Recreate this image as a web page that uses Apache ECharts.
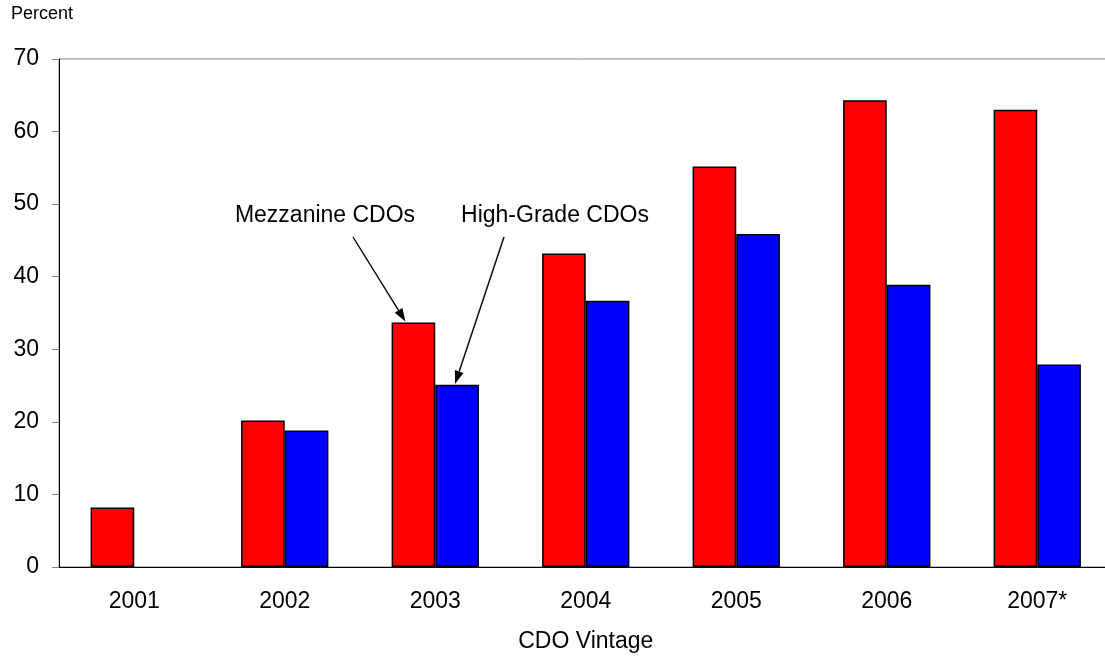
<!DOCTYPE html>
<html>
<head>
<meta charset="utf-8">
<script src="https://cdn.jsdelivr.net/npm/echarts@6/dist/echarts.min.js"></script>
<style>
  html, body { margin: 0; padding: 0; background: #fff; }
  #chart { width: 1105px; height: 659px; }
</style>
</head>
<body>
<div id="chart"></div>
<script>
// CDO vintages and the share (percent) for each CDO type
const vintages = ['2001', '2002', '2003', '2004', '2005', '2006', '2007*'];
const mezzanine = [8.2, 20.2, 33.7, 43.2, 55.2, 64.3, 63.0];
const highGrade = [null, 18.8, 25.1, 36.7, 45.9, 38.9, 27.9];
const yTicks = { min: 0, max: 70, interval: 10 };

const FONT = '"Liberation Sans", Arial, sans-serif';
const BIG = 23;

const chart = echarts.init(document.getElementById('chart'), null, { renderer: 'canvas' });

const percentLabel = {
  type: 'text', left: 11, top: 5,
  style: { text: 'Percent', fontFamily: FONT, fontSize: 18, fill: '#000' }
};

const option = {
  animation: false,
  backgroundColor: '#ffffff',
  grid: {
    left: 59, top: 59, width: 1053.5, height: 508,
    outerBoundsMode: 'none',
    show: true, borderColor: '#808080', borderWidth: 1, backgroundColor: 'transparent'
  },
  xAxis: {
    type: 'category',
    data: vintages,
    name: 'CDO Vintage',
    nameLocation: 'middle',
    nameGap: 63,
    nameTextStyle: { fontFamily: FONT, fontSize: BIG, color: '#000' },
    axisLine: { show: true, lineStyle: { color: '#000', width: 1 } },
    axisTick: { show: false },
    axisLabel: { fontFamily: FONT, fontSize: BIG, color: '#000', margin: 23 },
    splitLine: { show: false }
  },
  yAxis: {
    type: 'value',
    min: yTicks.min, max: yTicks.max, interval: yTicks.interval,
    axisLine: { show: true, lineStyle: { color: '#000', width: 1 } },
    axisTick: { show: true, length: 7, lineStyle: { color: '#808080', width: 1 } },
    axisLabel: { fontFamily: FONT, fontSize: BIG, color: '#000', margin: 20 },
    splitLine: { show: false }
  },
  series: [
    {
      name: 'Mezzanine CDOs',
      type: 'bar',
      data: mezzanine,
      barGap: '0%',
      barCategoryGap: '42%',
      itemStyle: { color: '#ff0000', borderColor: '#000', borderWidth: 1.5 }
    },
    {
      name: 'High-Grade CDOs',
      type: 'bar',
      data: highGrade,
      itemStyle: { color: '#0000ff', borderColor: '#000', borderWidth: 1.5 }
    }
  ],
  graphic: [percentLabel]
};

chart.setOption(option);

// Callout labels with arrows pointing at the 2003 bars
function arrow(id, x1, y1, x2, y2) {
  const ang = Math.atan2(y2 - y1, x2 - x1);
  const len = 13, half = 4.5;
  const bx = x2 - len * Math.cos(ang), by = y2 - len * Math.sin(ang);
  const px = -Math.sin(ang) * half, py = Math.cos(ang) * half;
  return [
    { type: 'line', id: id + '-shaft', shape: { x1: x1, y1: y1, x2: bx, y2: by },
      style: { stroke: '#000', lineWidth: 1.4 } },
    { type: 'polygon', id: id + '-head',
      shape: { points: [[x2, y2], [bx + px, by + py], [bx - px, by - py]] },
      style: { fill: '#000' } }
  ];
}

const idx = 2; // 2003
const pMez = chart.convertToPixel({ seriesIndex: 0 }, [idx, mezzanine[idx]]);
const pHg = chart.convertToPixel({ seriesIndex: 1 }, [idx, highGrade[idx]]);
const catW = chart.convertToPixel({ xAxisIndex: 0 }, 1) - chart.convertToPixel({ xAxisIndex: 0 }, 0);
const barW = catW * (1 - 0.42) / 2;
const mezTip = [pMez[0] - barW / 2 - 8, pMez[1] - 1];
const hgTip = [pHg[0] + barW / 2 - 2, pHg[1] - 1];

chart.setOption({
  graphic: [
    percentLabel,
    {
      type: 'text', x: 325, y: 216,
      style: { text: 'Mezzanine CDOs', fontFamily: FONT, fontSize: BIG, fill: '#000',
               align: 'center', verticalAlign: 'middle' }
    },
    {
      type: 'text', x: 555, y: 216,
      style: { text: 'High-Grade CDOs', fontFamily: FONT, fontSize: BIG, fill: '#000',
               align: 'center', verticalAlign: 'middle' }
    }
  ].concat(arrow('mez', 353, 237, mezTip[0], mezTip[1]))
   .concat(arrow('hg', 504, 237, hgTip[0], hgTip[1]))
});
</script>
</body>
</html>
